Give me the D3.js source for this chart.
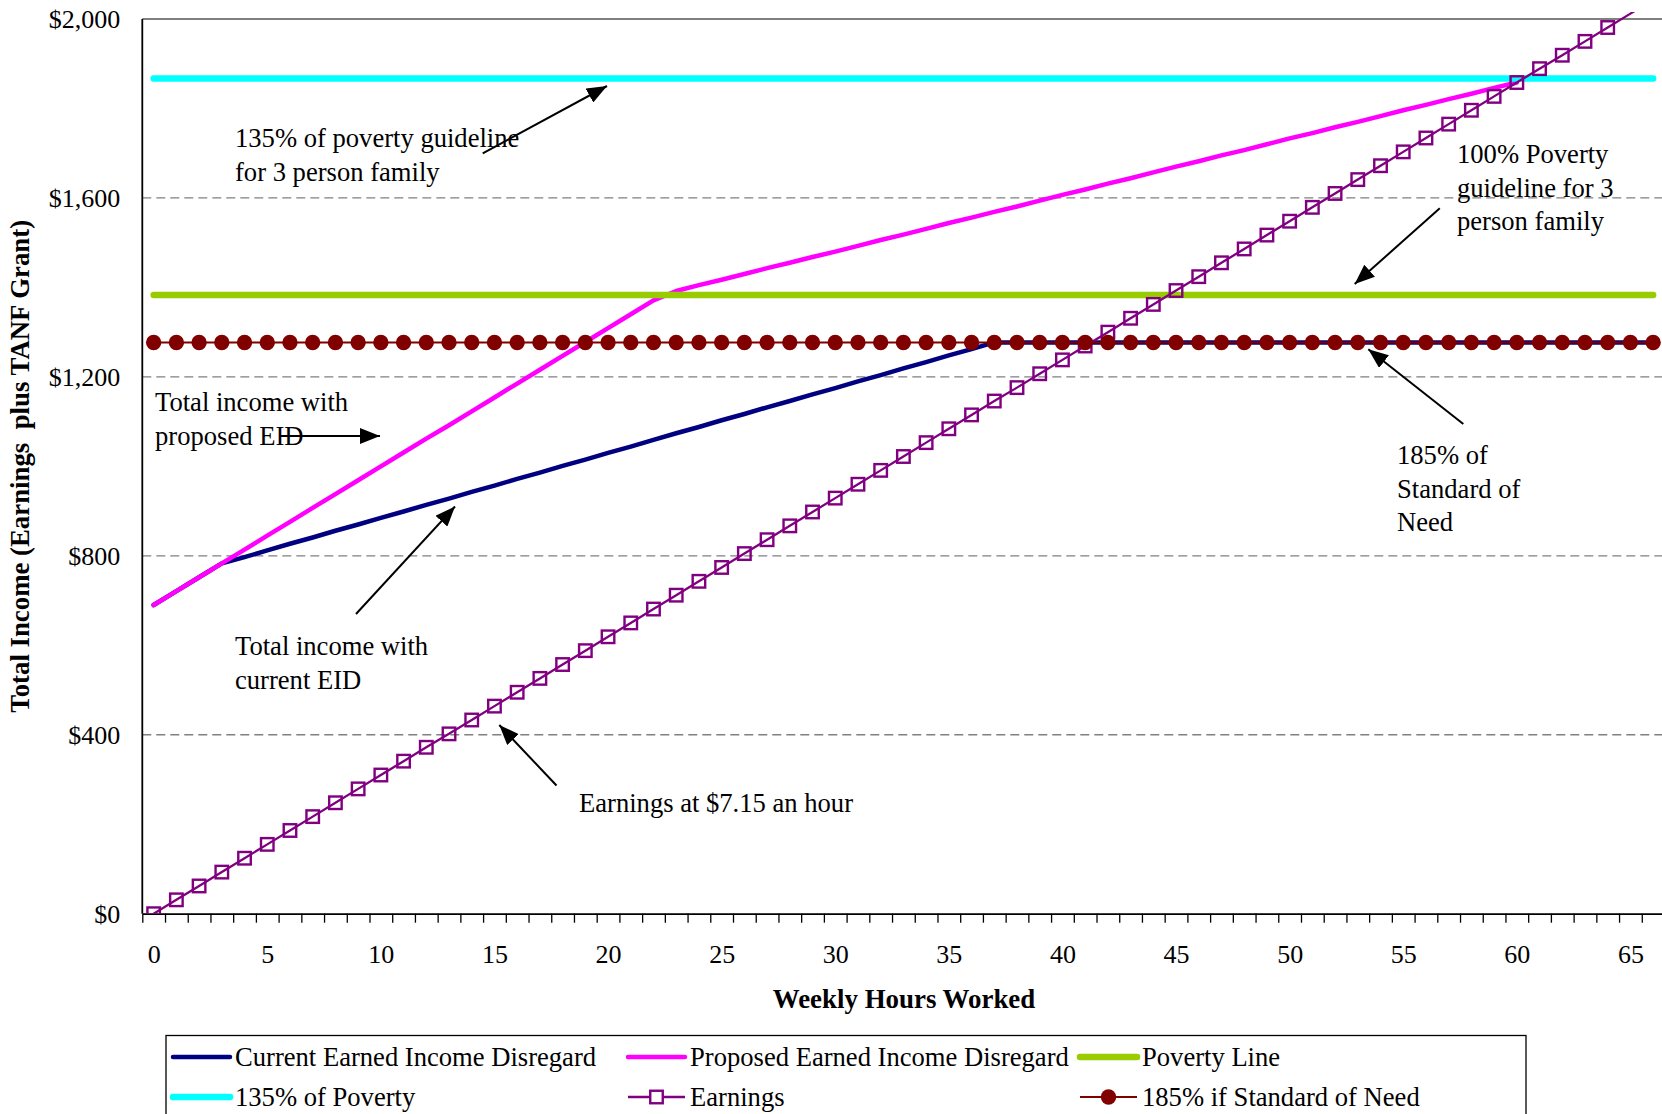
<!DOCTYPE html>
<html>
<head>
<meta charset="utf-8">
<script src="https://cdn.jsdelivr.net/npm/d3@7"></script>
<style>
  body { margin: 0; background: #fff; }
  svg { display: block; }
  text { font-family: "Liberation Serif", "Times New Roman", serif; fill: #000; }
</style>
</head>
<body>
<svg id="chart" width="1662" height="1114"></svg>
<script>
// Weekly hours worked (one category per hour)
const hours = [0,1,2,3,4,5,6,7,8,9,10,11,12,13,14,15,16,17,18,19,20,21,22,23,24,25,26,27,28,29,30,31,32,33,34,35,36,37,38,39,40,41,42,43,44,45,46,47,48,49,50,51,52,53,54,55,56,57,58,59,60,61,62,63,64,65,66];

// Monthly earnings at $7.15 an hour
const earnings = [0,31,62,93,124,155,186,217,248,279,310,341,372,402,433,464,495,526,557,588,619,650,681,712,743,774,805,836,867,898,929,960,991,1022,1053,1084,1115,1146,1176,1207,1238,1269,1300,1331,1362,1393,1424,1455,1486,1517,1548,1579,1610,1641,1672,1703,1734,1765,1796,1827,1858,1889,1919,1950,1981,2012,2043];

// Total income (earnings plus TANF grant) under the current earned income disregard
const currentEID = [690,721,752,783,797,812,827,841,856,870,885,899,914,928,943,957,972,986,1001,1015,1030,1044,1059,1074,1088,1103,1117,1132,1146,1161,1175,1190,1204,1219,1233,1248,1262,1277,1277,1277,1277,1277,1277,1277,1277,1277,1277,1277,1277,1277,1277,1277,1277,1277,1277,1277,1277,1277,1277,1277,1277,1277,1277,1277,1277,1277,1277];

// Total income under the proposed earned income disregard (ends where it meets earnings)
const proposedEID = [690,721,752,783,814,845,876,907,938,969,1000,1031,1062,1092,1123,1154,1185,1216,1247,1278,1309,1340,1371,1392,1405,1417,1430,1443,1455,1468,1480,1493,1506,1518,1531,1544,1556,1569,1581,1594,1607,1619,1632,1644,1657,1670,1682,1695,1707,1720,1733,1745,1758,1770,1783,1796,1808,1821,1833,1846,1858,null,null,null,null,null,null];

// Flat reference levels (monthly)
const povertyLine = 1383;        // 100% poverty guideline, 3 person family
const poverty135 = 1867;         // 135% of poverty guideline
const standardOfNeed185 = 1277;  // 185% of standard of need

const yTicks = [0, 400, 800, 1200, 1600, 2000];
const xLabelTicks = [0, 5, 10, 15, 20, 25, 30, 35, 40, 45, 50, 55, 60, 65];

const svg = d3.select("#chart");

const plot = { left: 142.3, right: 1664.5, top: 19, bottom: 913.7 };
const x = d3.scaleLinear().domain([-0.5, 66.5]).range([plot.left, plot.right]);
const y = d3.scaleLinear().domain([0, 2000]).range([plot.bottom, plot.top]);

// Horizontal dashed gridlines
svg.append("g")
  .selectAll("line")
  .data(yTicks.filter(d => d > 0 && d < 2000))
  .join("line")
  .attr("x1", plot.left).attr("x2", plot.right)
  .attr("y1", d => y(d)).attr("y2", d => y(d))
  .attr("stroke", "#808080").attr("stroke-width", 1.3)
  .attr("stroke-dasharray", "9,5");

// Top border of the plot area
svg.append("line")
  .attr("x1", plot.left).attr("x2", plot.right)
  .attr("y1", plot.top).attr("y2", plot.top)
  .attr("stroke", "#808080").attr("stroke-width", 2);

// Y axis labels
const yAxis = svg.append("g")
  .attr("transform", `translate(${plot.left},0)`)
  .call(d3.axisLeft(y).tickValues(yTicks).tickSize(0).tickPadding(22)
    .tickFormat(d => "$" + d3.format(",")(d)));
yAxis.select(".domain").remove();
yAxis.selectAll("text").attr("font-size", 26).attr("font-family", "Liberation Serif");

// Left axis line
svg.append("line")
  .attr("x1", plot.left).attr("x2", plot.left)
  .attr("y1", plot.top).attr("y2", plot.bottom)
  .attr("stroke", "#000").attr("stroke-width", 1.8);

// X axis: tick marks between categories
const xTickAxis = svg.append("g")
  .attr("transform", `translate(0,${plot.bottom})`)
  .call(d3.axisBottom(x).tickValues(d3.range(-0.5, 67, 1)).tickSize(9).tickSizeOuter(0).tickFormat(""));
xTickAxis.select(".domain").attr("stroke-width", 1.8);
xTickAxis.selectAll(".tick line").attr("stroke-width", 1.3);

// X axis labels every 5 hours
const xLabelAxis = svg.append("g")
  .attr("transform", `translate(0,${plot.bottom})`)
  .call(d3.axisBottom(x).tickValues(xLabelTicks).tickSize(0).tickPadding(31));
xLabelAxis.select(".domain").remove();
xLabelAxis.selectAll("text").attr("font-size", 26).attr("font-family", "Liberation Serif");

// Axis titles
svg.append("text")
  .attr("x", 904).attr("y", 1008)
  .attr("text-anchor", "middle")
  .attr("font-size", 26.9).attr("font-weight", "bold")
  .text("Weekly Hours Worked");

svg.append("text")
  .attr("transform", `translate(29,${(plot.top + plot.bottom) / 2}) rotate(-90)`)
  .attr("text-anchor", "middle")
  .attr("font-size", 26.8).attr("font-weight", "bold")
  .style("white-space", "pre")
  .text("Total Income (Earnings  plus TANF Grant)");

// Series
svg.append("defs").append("clipPath").attr("id", "plotClip")
  .append("rect")
  .attr("x", plot.left).attr("y", plot.top - 7)
  .attr("width", plot.right - plot.left).attr("height", plot.bottom - plot.top + 7);

const series = svg.append("g").attr("clip-path", "url(#plotClip)");

const line = d3.line()
  .defined(d => d[1] !== null)
  .x(d => x(d[0]))
  .y(d => y(d[1]));

function drawLine(values, color, width) {
  series.append("path")
    .datum(hours.map((h, i) => [h, values[i]]))
    .attr("d", line)
    .attr("fill", "none")
    .attr("stroke", color)
    .attr("stroke-width", width)
    .attr("stroke-linejoin", "round")
    .attr("stroke-linecap", "round");
}

const flat = v => hours.map(() => v);

drawLine(currentEID, "#000080", 4.5);
drawLine(proposedEID, "#FF00FF", 4.5);
drawLine(flat(povertyLine), "#99CC00", 6.5);
drawLine(flat(poverty135), "#00FFFF", 6.5);
drawLine(earnings, "#800080", 2.3);

// Earnings markers (hollow squares), only inside the value range
const sq = 12.5;
series.append("g")
  .selectAll("rect")
  .data(hours.map((h, i) => [h, earnings[i]]).filter(d => d[1] <= 2000))
  .join("rect")
  .attr("x", d => x(d[0]) - sq / 2)
  .attr("y", d => y(d[1]) - sq / 2)
  .attr("width", sq).attr("height", sq)
  .attr("fill", "none")
  .attr("stroke", "#800080")
  .attr("stroke-width", 2.4);

drawLine(flat(standardOfNeed185), "#800000", 2);

series.append("g")
  .selectAll("circle")
  .data(hours)
  .join("circle")
  .attr("cx", d => x(d))
  .attr("cy", y(standardOfNeed185))
  .attr("r", 7.7)
  .attr("fill", "#800000");

// Annotations
const defs = svg.select("defs");
defs.append("marker")
  .attr("id", "arrowHead")
  .attr("viewBox", "0 0 20 16")
  .attr("refX", 20).attr("refY", 8)
  .attr("markerWidth", 20).attr("markerHeight", 16)
  .attr("markerUnits", "userSpaceOnUse")
  .attr("orient", "auto")
  .append("path")
  .attr("d", "M0,0 L20,8 L0,16 Z")
  .attr("fill", "#000");

const notes = [
  { x: 235, y: 147, lines: ["135% of poverty guideline", "for 3 person family"], from: [482.7, 153.3], to: [607, 86] },
  { x: 1457, y: 163, lines: ["100% Poverty", "guideline for 3", "person family"], from: [1439.8, 208.3], to: [1354.7, 284] },
  { x: 155, y: 411, lines: ["Total income with", "proposed EID"], from: [280, 436], to: [380, 436] },
  { x: 235, y: 655, lines: ["Total income with", "current EID"], from: [356, 614], to: [455, 506.5] },
  { x: 579, y: 812, lines: ["Earnings at $7.15 an hour"], from: [556.5, 785.5], to: [499.3, 725] },
  { x: 1397, y: 464, lines: ["185% of", "Standard of", "Need"], from: [1463.3, 424], to: [1368.3, 349.3] }
];

const noteG = svg.append("g");
notes.forEach(n => {
  const t = noteG.append("text")
    .attr("x", n.x).attr("y", n.y)
    .attr("font-size", 26.6);
  n.lines.forEach((s, i) => {
    t.append("tspan").attr("x", n.x).attr("dy", i === 0 ? 0 : 33.5).text(s);
  });
  noteG.append("line")
    .attr("x1", n.from[0]).attr("y1", n.from[1])
    .attr("x2", n.to[0]).attr("y2", n.to[1])
    .attr("stroke", "#000").attr("stroke-width", 2)
    .attr("marker-end", "url(#arrowHead)");
});

// Legend
const legendItems = [
  { label: "Current Earned Income Disregard", color: "#000080", width: 4.5, col: 0, row: 0 },
  { label: "Proposed Earned Income Disregard", color: "#FF00FF", width: 4.5, col: 1, row: 0 },
  { label: "Poverty Line", color: "#99CC00", width: 6.5, col: 2, row: 0 },
  { label: "135% of Poverty", color: "#00FFFF", width: 6.5, col: 0, row: 1 },
  { label: "Earnings", color: "#800080", width: 2.3, col: 1, row: 1, marker: "square" },
  { label: "185% if Standard of Need", color: "#800000", width: 2, col: 2, row: 1, marker: "circle" }
];
const colX = [173, 628, 1080];
const rowY = [1057, 1097];
const sampleLen = 57;

const legend = svg.append("g");
legend.append("rect")
  .attr("x", 166).attr("y", 1035.5)
  .attr("width", 1360).attr("height", 120)
  .attr("fill", "#fff").attr("stroke", "#000").attr("stroke-width", 1.3);

legendItems.forEach(it => {
  const x0 = colX[it.col], yc = rowY[it.row];
  legend.append("line")
    .attr("x1", x0).attr("x2", x0 + sampleLen)
    .attr("y1", yc).attr("y2", yc)
    .attr("stroke", it.color).attr("stroke-width", it.width)
    .attr("stroke-linecap", it.marker ? "butt" : "round");
  if (it.marker === "square") {
    legend.append("rect")
      .attr("x", x0 + sampleLen / 2 - sq / 2).attr("y", yc - sq / 2)
      .attr("width", sq).attr("height", sq)
      .attr("fill", "#fff").attr("stroke", it.color).attr("stroke-width", 2.4);
  } else if (it.marker === "circle") {
    legend.append("circle")
      .attr("cx", x0 + sampleLen / 2).attr("cy", yc).attr("r", 7.7)
      .attr("fill", it.color);
  }
  legend.append("text")
    .attr("x", x0 + sampleLen + 5).attr("y", yc + 8.5)
    .attr("font-size", 26.6)
    .text(it.label);
});
</script>
</body>
</html>
